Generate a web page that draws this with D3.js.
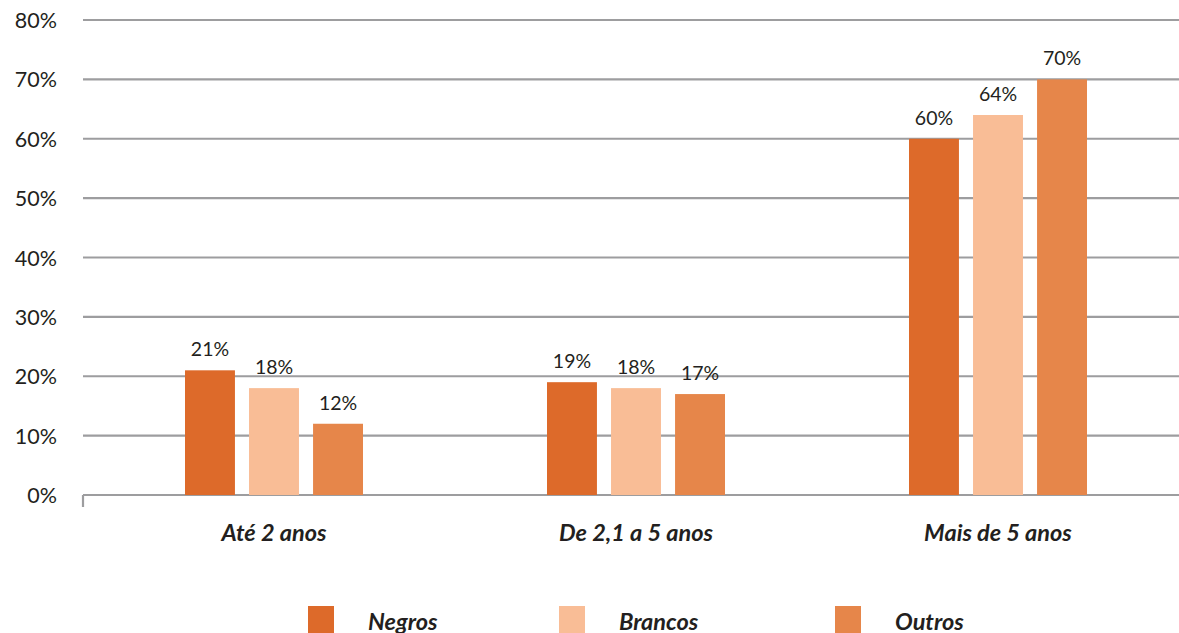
<!DOCTYPE html>
<html>
<head>
<meta charset="utf-8">
<script src="https://cdn.jsdelivr.net/npm/d3@7/dist/d3.min.js"></script>
<style>
  html, body { margin: 0; padding: 0; background: #fff; }
  svg { display: block; font-family: Lato, "Open Sans", sans-serif; }
</style>
</head>
<body>
<svg id="chart" width="1179" height="633"></svg>
<script>
// Tempo de permanência por grupo
const categories = ["Até 2 anos", "De 2,1 a 5 anos", "Mais de 5 anos"];
const seriesNames = ["Negros", "Brancos", "Outros"];
const negros  = [21, 19, 60];
const brancos = [18, 18, 64];
const outros  = [12, 17, 70];
const yTicks = [0, 10, 20, 30, 40, 50, 60, 70, 80];
const colors = ["#DD6A2A", "#F9BD96", "#E6864A"];

const seriesValues = [negros, brancos, outros];
const rows = categories.map((c, i) => ({
  category: c,
  values: seriesNames.map((s, j) => ({ series: s, value: seriesValues[j][i] }))
}));

const svg = d3.select("#chart");
const axisLeft = 83, plotRight = 1179;
const y = d3.scaleLinear().domain([0, 80]).range([495, 20]);
const x0 = d3.scaleBand().domain(categories).range([93, 1179]).paddingInner(0).paddingOuter(0);
const x1 = d3.scaleBand().domain(seriesNames).range([x0.bandwidth() / 2 - 89, x0.bandwidth() / 2 + 89]).paddingInner(0.22).paddingOuter(0);
const color = d3.scaleOrdinal().domain(seriesNames).range(colors);

// gridlines
svg.append("g").selectAll("line").data(yTicks).join("line")
  .attr("x1", axisLeft).attr("x2", plotRight)
  .attr("y1", d => y(d)).attr("y2", d => y(d))
  .attr("stroke", "#9d9d9f").attr("stroke-width", 2.2);

// left tick below the baseline
svg.append("line")
  .attr("x1", axisLeft).attr("x2", axisLeft)
  .attr("y1", y(0)).attr("y2", y(0) + 12)
  .attr("stroke", "#9d9d9f").attr("stroke-width", 2.2);

// y tick labels
svg.append("g").selectAll("text").data(yTicks).join("text")
  .attr("x", 57).attr("y", d => y(d) + 8)
  .attr("text-anchor", "end")
  .attr("font-size", 21.5).attr("fill", "#231f20")
  .text(d => d + "%");

// bars
const groups = svg.append("g").selectAll("g").data(rows).join("g")
  .attr("transform", d => `translate(${x0(d.category)},0)`);

groups.selectAll("rect").data(d => d.values).join("rect")
  .attr("x", d => x1(d.series))
  .attr("width", x1.bandwidth())
  .attr("y", d => y(d.value))
  .attr("height", d => y(0) - y(d.value))
  .attr("fill", d => color(d.series));

groups.selectAll("text").data(d => d.values).join("text")
  .attr("x", d => x1(d.series) + x1.bandwidth() / 2)
  .attr("y", d => y(d.value) - 14)
  .attr("text-anchor", "middle")
  .attr("font-size", 19.5).attr("fill", "#231f20")
  .text(d => d.value + "%");

// category labels
svg.append("g").selectAll("text").data(categories).join("text")
  .attr("x", d => x0(d) + x0.bandwidth() / 2)
  .attr("y", 541)
  .attr("text-anchor", "middle")
  .attr("font-size", 23.5).attr("font-weight", "bold").attr("font-style", "italic")
  .attr("fill", "#231f20")
  .text(d => d);

// legend
const legendX = [308, 559, 835];
const legend = svg.append("g").selectAll("g").data(seriesNames).join("g")
  .attr("transform", (d, i) => `translate(${legendX[i]},606)`);
legend.append("rect").attr("width", 26).attr("height", 27).attr("fill", d => color(d));
legend.append("text")
  .attr("x", 60).attr("y", 24)
  .attr("font-size", 23.5).attr("font-weight", "bold").attr("font-style", "italic")
  .attr("fill", "#231f20")
  .text(d => d);
</script>
</body>
</html>
